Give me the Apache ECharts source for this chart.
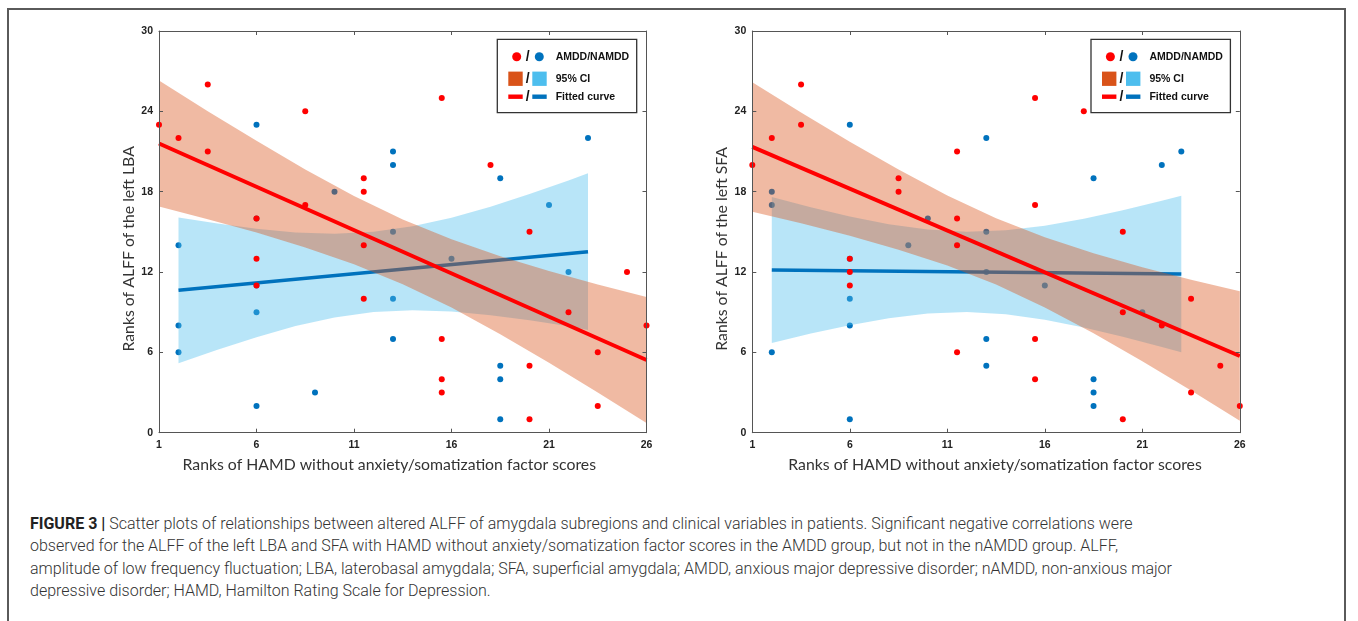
<!DOCTYPE html>
<html>
<head>
<meta charset="utf-8">
<script src="https://cdn.jsdelivr.net/npm/echarts@6/dist/echarts.min.js"></script>
<style>
  html, body { margin:0; padding:0; background:#fff; width:1358px; height:621px; overflow:hidden; }
  #frame { position:absolute; left:7px; top:8px; width:1339px; height:700px; border:2px solid #5a5a5a; box-sizing:border-box; }
  #chart { position:absolute; left:0; top:0; width:1358px; height:480px; }
  #caption { position:absolute; left:30px; top:513px; font-family:Roboto, "Liberation Sans", sans-serif; font-weight:300; font-size:16px; line-height:22.3px; color:#333; white-space:nowrap; }
  #caption b { font-weight:700; color:#222; }
</style>
</head>
<body>
<div id="frame"></div>
<div id="chart"></div>
<div id="caption">
  <div><b>FIGURE 3 |</b> Scatter plots of relationships between altered ALFF of amygdala subregions and clinical variables in patients. Significant negative correlations were</div>
  <div>observed for the ALFF of the left LBA and SFA with HAMD without anxiety/somatization factor scores in the AMDD group, but not in the nAMDD group. ALFF,</div>
  <div>amplitude of low frequency fluctuation; LBA, laterobasal amygdala; SFA, superficial amygdala; AMDD, anxious major depressive disorder; nAMDD, non-anxious major</div>
  <div>depressive disorder; HAMD, Hamilton Rating Scale for Depression.</div>
</div>
<script>
// ---------- tick labels ----------
const xTicks = [1, 6, 11, 16, 21, 26];
const yTicks = [0, 6, 12, 18, 24, 30];

// ---------- left panel: LBA ----------
const lbaAmdd = [[1,23],[2,22],[3.5,26],[3.5,21],[6,16],[6,13],[6,11],[8.5,24],[8.5,17],[11.5,19],[11.5,18],[11.5,14],[11.5,10],[15.5,25],[15.5,7],[15.5,4],[15.5,3],[18,20],[20,15],[20,5],[20,1],[22,9],[23.5,6],[23.5,2],[25,12],[26,8]];
const lbaNamdd = [[2,14],[2,8],[2,6],[6,23],[6,16],[6,11],[6,9],[6,2],[9,3],[10,18],[13,21],[13,20],[13,15],[13,10],[13,7],[16,13],[18.5,19],[18.5,5],[18.5,4],[18.5,1],[21,17],[22,12],[23,22]];
const lbaAmddFit = [[1,21.6],[26,5.43]];
const lbaNamddFit = [[2,10.63],[23,13.52]];
const amddBandX = [1,3.5,6,8.5,11,13.5,16,18.5,21,23.5,26];
const lbaAmddUpper = [26.3,24.0,21.8,19.66,17.68,15.92,14.45,13.18,12.07,11.06,10.13];
const lbaAmddLower = [16.9,15.95,14.95,13.84,12.58,11.08,9.35,7.36,5.23,3.0,0.73];
const namddBandX = [2,4,6,8,10,12,14,16,18,20,22,23];
const lbaNamddUpper = [16.07,15.62,15.23,14.96,14.86,15.0,15.41,16.06,16.88,17.82,18.83,19.37];
const lbaNamddLower = [5.19,6.2,7.13,7.96,8.6,9.02,9.15,9.06,8.78,8.4,7.95,7.67];

// ---------- right panel: SFA ----------
const sfaAmdd = [[1,20],[2,22],[3.5,26],[3.5,23],[6,13],[6,12],[6,11],[8.5,19],[8.5,18],[11.5,21],[11.5,16],[11.5,14],[11.5,6],[15.5,25],[15.5,17],[15.5,7],[15.5,4],[18,24],[20,15],[20,9],[20,1],[22,8],[23.5,10],[23.5,3],[25,5],[26,2]];
const sfaNamdd = [[2,18],[2,17],[2,6],[6,23],[6,13],[6,10],[6,8],[6,1],[9,14],[10,16],[13,22],[13,15],[13,12],[13,7],[13,5],[16,11],[18.5,19],[18.5,4],[18.5,3],[18.5,2],[21,9],[22,20],[23,21]];
const sfaAmddFit = [[1,21.34],[26,5.73]];
const sfaNamddFit = [[2,12.15],[23,11.85]];
const sfaAmddUpper = [26.17,23.92,21.73,19.65,17.72,16.02,14.59,13.40,12.36,11.43,10.56];
const sfaAmddLower = [16.51,15.64,14.71,13.67,12.48,11.06,9.35,7.42,5.34,3.15,0.90];
const sfaNamddUpper = [17.61,16.84,16.15,15.57,15.18,15.01,15.12,15.46,15.98,16.61,17.32,17.70];
const sfaNamddLower = [6.69,7.40,8.03,8.55,8.90,9.01,8.84,8.44,7.86,7.17,6.40,6.00];

const xTitle = 'Ranks of HAMD without anxiety/somatization factor scores';
const yTitles = ['Ranks of ALFF of the left LBA', 'Ranks of ALFF of the left SFA'];
const legendLabels = ['AMDD/NAMDD', '95% CI', 'Fitted curve'];

// ---------- colours ----------
const RED = '#ff0000', BLUE = '#0072bd', ORANGE = '#d95319', LIGHTBLUE = '#4dbeee';
const AXIS = '#555';

const chart = echarts.init(document.getElementById('chart'), null, {renderer:'canvas'});

const grids = [
  {left:159, top:31, width:487.5, height:401.7},
  {left:752.3, top:31, width:487.5, height:401.7}
];
const xNamePad = [[0, 27, 0, 0], [0, 2, 0, 0]];

const xAxes = [], yAxes = [];
grids.forEach((g, gi) => {
  xAxes.push({
    gridIndex: gi, type:'value', min:1, max:26, position:'bottom', z:10,
    axisLine:{show:true, onZero:false, lineStyle:{color:AXIS, width:1}},
    axisTick:{show:true, inside:true, length:4, customValues:xTicks, lineStyle:{color:AXIS}},
    axisLabel:{show:true, customValues:xTicks, margin:7, color:'#222', fontWeight:'bold', fontSize:10.5, fontFamily:'Liberation Sans, Arial, sans-serif'},
    splitLine:{show:false},
    name:xTitle, nameLocation:'middle', nameGap:24,
    nameTextStyle:{fontFamily:'Lato, "Open Sans", sans-serif', fontSize:15.8, color:'#333', padding:xNamePad[gi]}
  });
  xAxes.push({
    gridIndex: gi, type:'value', min:1, max:26, position:'top', z:10,
    axisLine:{show:true, onZero:false, lineStyle:{color:AXIS, width:1}},
    axisTick:{show:true, inside:true, length:4, customValues:xTicks, lineStyle:{color:AXIS}},
    axisLabel:{show:false}, splitLine:{show:false}
  });
  yAxes.push({
    gridIndex: gi, type:'value', min:0, max:30, interval:6, position:'left', z:10,
    axisLine:{show:true, onZero:false, lineStyle:{color:AXIS, width:1}},
    axisTick:{show:true, inside:true, length:4, lineStyle:{color:AXIS}},
    axisLabel:{show:true, margin:6, color:'#222', fontWeight:'bold', fontSize:10.5, fontFamily:'Liberation Sans, Arial, sans-serif'},
    splitLine:{show:false},
    name:yTitles[gi], nameLocation:'middle', nameGap:22,
    nameTextStyle:{fontFamily:'Lato, "Open Sans", sans-serif', fontSize:15.8, color:'#333', padding:[0, 34, 0, 0]}
  });
  yAxes.push({
    gridIndex: gi, type:'value', min:0, max:30, interval:6, position:'right', z:10,
    axisLine:{show:true, onZero:false, lineStyle:{color:AXIS, width:1}},
    axisTick:{show:true, inside:true, length:4, lineStyle:{color:AXIS}},
    axisLabel:{show:false}, splitLine:{show:false}
  });
});

function band(xi, yi, xs, up, lo, color, z) {
  return {
    type:'custom', xAxisIndex:xi, yAxisIndex:yi, z:z, silent:true,
    data: xs.map((x, i) => [x, up[i], lo[i]]),
    encode:{x:0, y:[1,2]},
    renderItem: function(params, api) {
      if (params.dataIndex !== 0) return null;
      const pts = [];
      for (let i = 0; i < xs.length; i++) pts.push(api.coord([xs[i], up[i]]));
      for (let i = xs.length - 1; i >= 0; i--) pts.push(api.coord([xs[i], lo[i]]));
      return {type:'polygon', shape:{points:pts}, style:{fill:color, opacity:0.4, stroke:null}};
    }
  };
}
function scatter(xi, yi, data, color, z) {
  return {type:'scatter', xAxisIndex:xi, yAxisIndex:yi, z:z, data:data, symbol:'circle', symbolSize:6,
          itemStyle:{color:color, opacity:1}, silent:true};
}
function fit(xi, yi, data, color, w, z) {
  return {type:'line', xAxisIndex:xi, yAxisIndex:yi, z:z, data:data, symbol:'none', silent:true,
          lineStyle:{color:color, width:w}};
}

const panels = [
  {xi:0, yi:0, amdd:lbaAmdd, namdd:lbaNamdd, aFit:lbaAmddFit, nFit:lbaNamddFit, aUp:lbaAmddUpper, aLo:lbaAmddLower, nUp:lbaNamddUpper, nLo:lbaNamddLower},
  {xi:2, yi:2, amdd:sfaAmdd, namdd:sfaNamdd, aFit:sfaAmddFit, nFit:sfaNamddFit, aUp:sfaAmddUpper, aLo:sfaAmddLower, nUp:sfaNamddUpper, nLo:sfaNamddLower}
];
const series = [];
panels.forEach(p => {
  series.push(scatter(p.xi, p.yi, p.namdd, BLUE, 2));
  series.push(band(p.xi, p.yi, namddBandX, p.nUp, p.nLo, LIGHTBLUE, 3));
  series.push(fit(p.xi, p.yi, p.nFit, BLUE, 3.5, 4));
  series.push(band(p.xi, p.yi, amddBandX, p.aUp, p.aLo, ORANGE, 5));
  series.push(fit(p.xi, p.yi, p.aFit, RED, 4, 6));
  series.push(scatter(p.xi, p.yi, p.amdd, RED, 7));
});

// legend boxes (drawn as graphics)
const graphics = [];
[497.3, 1091].forEach(lx => {
  const ox = lx - 497.3;
  const tStyle = {fill:'#111', font:'bold 10.5px "Liberation Sans", Arial, sans-serif', textVerticalAlign:'middle'};
  const sStyle = {fill:'#111', font:'bold 14px "Liberation Sans", Arial, sans-serif', textAlign:'center', textVerticalAlign:'middle'};
  graphics.push({type:'rect', z:20, shape:{x:497.3+ox, y:39.3, width:139.4, height:73.4}, style:{fill:'#fff', stroke:'#333', lineWidth:1.3}});
  // row 1
  graphics.push({type:'circle', z:21, shape:{cx:516.7+ox, cy:56.7, r:4.5}, style:{fill:RED}});
  graphics.push({type:'text', z:21, style:Object.assign({x:527.8+ox, y:56.7, text:'/'}, sStyle)});
  graphics.push({type:'circle', z:21, shape:{cx:539.3+ox, cy:56.7, r:4.5}, style:{fill:BLUE}});
  graphics.push({type:'text', z:21, style:Object.assign({x:555.7+ox, y:57.2, text:legendLabels[0]}, tStyle)});
  // row 2
  graphics.push({type:'rect', z:21, shape:{x:508.3+ox, y:71.6, width:14.4, height:14.3}, style:{fill:ORANGE}});
  graphics.push({type:'text', z:21, style:Object.assign({x:527.8+ox, y:78.7, text:'/'}, sStyle)});
  graphics.push({type:'rect', z:21, shape:{x:532.3+ox, y:71.6, width:14.4, height:14.3}, style:{fill:LIGHTBLUE}});
  graphics.push({type:'text', z:21, style:Object.assign({x:555.7+ox, y:79.2, text:legendLabels[1]}, tStyle)});
  // row 3
  graphics.push({type:'rect', z:21, shape:{x:508.3+ox, y:94.5, width:14.4, height:4.4}, style:{fill:RED}});
  graphics.push({type:'text', z:21, style:Object.assign({x:527.8+ox, y:96.7, text:'/'}, sStyle)});
  graphics.push({type:'rect', z:21, shape:{x:532.3+ox, y:94.5, width:14.4, height:4.4}, style:{fill:BLUE}});
  graphics.push({type:'text', z:21, style:Object.assign({x:555.7+ox, y:97.2, text:legendLabels[2]}, tStyle)});
});

chart.setOption({
  animation:false,
  grid:grids,
  xAxis:xAxes,
  yAxis:yAxes,
  series:series,
  graphic:graphics
});
</script>
</body>
</html>
